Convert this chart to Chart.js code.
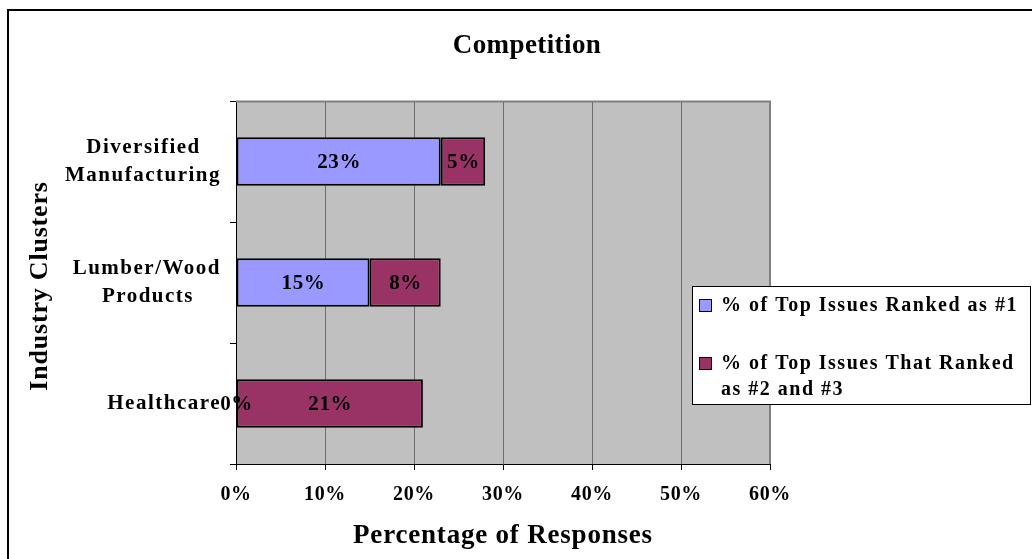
<!DOCTYPE html>
<html><head><meta charset="utf-8">
<script src="https://cdn.jsdelivr.net/npm/chart.js@4.4.1/dist/chart.umd.min.js"></script>
<style>html,body{margin:0;padding:0;background:#fff;} canvas{display:block;}</style>
</head><body>
<canvas id="c" width="1032" height="559"></canvas>
<script>
const chartTitle = 'Competition';
const categories = [['Diversified', 'Manufacturing'], ['Lumber/Wood', 'Products'], ['Healthcare']];
const seriesNames = ['% of Top Issues Ranked as #1', '% of Top Issues That Ranked as #2 and #3'];
const rankedFirst = [23, 15, 0];
const rankedSecondThird = [5, 8, 21];
const xMin = 0, xMax = 60, xStep = 10;
const xTitle = 'Percentage of Responses';
const yTitle = 'Industry Clusters';
const seriesColors = ['#9999FF', '#993366'];

const SERIF = '"Liberation Serif", "Times New Roman", serif';
const Y_SPACING = '1.5px', X_SPACING = '0.6px';
const mctx = document.createElement('canvas').getContext('2d');
function centerLines(lines, font, spacing) {
  mctx.font = font; mctx.letterSpacing = spacing;
  const w = lines.map(l => mctx.measureText(l).width);
  const max = Math.max(...w);
  const sw = mctx.measureText(' ').width;
  return lines.map((l, i) => l + ' '.repeat(Math.round((max - w[i]) / 2 / sw)));
}
function wrapText(ctx, text, maxW) {
  const words = text.split(' ');
  const lines = []; let cur = '';
  words.forEach(w => {
    const t = cur ? cur + ' ' + w : w;
    if (ctx.measureText(t).width > maxW && cur) { lines.push(cur); cur = w; } else cur = t;
  });
  if (cur) lines.push(cur);
  return lines;
}

const decor = {
  id: 'decor',
  beforeLayout(chart) { chart.ctx.letterSpacing = Y_SPACING; },
  afterLayout(chart) {
    const s = chart.scales.x;
    if (!s._spacingWrapped) {
      const orig = s.drawLabels;
      s.drawLabels = function (ca) {
        const ctx = this.ctx; ctx.save(); ctx.letterSpacing = X_SPACING; orig.call(this, ca); ctx.restore();
      };
      s._spacingWrapped = true;
    }
  },
  beforeDraw(chart) {
    const ctx = chart.ctx, a = chart.chartArea;
    ctx.save();
    ctx.fillStyle = '#fff'; ctx.fillRect(0, 0, chart.width, chart.height);
    ctx.fillStyle = '#c0c0c0'; ctx.fillRect(a.left, a.top, a.right - a.left, a.bottom - a.top);
    ctx.restore();
    ctx.letterSpacing = Y_SPACING;
  },
  beforeDatasetsDraw(chart) {
    const ctx = chart.ctx, a = chart.chartArea;
    ctx.save();
    ctx.strokeStyle = '#808080'; ctx.lineWidth = 2;
    ctx.beginPath();
    ctx.moveTo(a.left, a.top + 0.5); ctx.lineTo(a.right, a.top + 0.5); ctx.lineTo(a.right, a.bottom);
    ctx.stroke();
    ctx.restore();
  },
  afterDatasetsDraw(chart) {
    const ctx = chart.ctx;
    ctx.save();
    ctx.font = 'bold 21px ' + SERIF; ctx.letterSpacing = '0.6px';
    ctx.fillStyle = '#000'; ctx.textAlign = 'center'; ctx.textBaseline = 'middle';
    chart.data.datasets.forEach((ds, di) => {
      chart.getDatasetMeta(di).data.forEach((el, i) => {
        ctx.fillText(ds.data[i] + '%', (el.x + el.base) / 2 + 0.5, el.y + 1);
      });
    });
    ctx.restore();
  },
  afterDraw(chart) {
    const ctx = chart.ctx, a = chart.chartArea;
    ctx.save();
    ctx.fillStyle = '#000';
    ctx.font = 'bold 27px ' + SERIF; ctx.letterSpacing = '0.4px';
    ctx.textAlign = 'center'; ctx.textBaseline = 'alphabetic';
    ctx.fillText(chartTitle, 527, 53);
    ctx.font = 'bold 27px ' + SERIF; ctx.letterSpacing = '0.8px';
    ctx.fillText(xTitle, (a.left + a.right) / 2, 543);
    ctx.save();
    ctx.translate(47, 286); ctx.rotate(-Math.PI / 2);
    ctx.font = 'bold 26px ' + SERIF; ctx.letterSpacing = '0.8px';
    ctx.fillText(yTitle, 0, 0);
    ctx.restore();
    // legend
    const lx = 692, ly = 286, lw = 338, lh = 118;
    ctx.fillStyle = '#fff'; ctx.fillRect(lx, ly, lw, lh);
    ctx.strokeStyle = '#000'; ctx.lineWidth = 1;
    ctx.strokeRect(lx + 0.5, ly + 0.5, lw, lh);
    ctx.font = 'bold 20px ' + SERIF; ctx.letterSpacing = '1.5px';
    ctx.textAlign = 'left';
    let base = 311;
    chart.data.datasets.forEach((ds, di) => {
      ctx.fillStyle = ds.backgroundColor;
      ctx.fillRect(699, base - 12, 13, 13);
      ctx.strokeStyle = '#000'; ctx.strokeRect(699.5, base - 11.5, 12, 12);
      ctx.fillStyle = '#000';
      const lines = wrapText(ctx, ds.label, 305);
      lines.forEach((l, k) => ctx.fillText(l, 721, base + k * 26));
      base += 58;
    });
    ctx.strokeStyle = '#000'; ctx.lineWidth = 2;
    ctx.strokeRect(8, 10, 1040, 560);
    ctx.restore();
  }
};

new Chart(document.getElementById('c'), {
  type: 'bar',
  data: {
    labels: categories,
    datasets: [
      { label: seriesNames[0], data: rankedFirst, backgroundColor: seriesColors[0] },
      { label: seriesNames[1], data: rankedSecondThird, backgroundColor: seriesColors[1] }
    ].map(d => Object.assign(d, { borderColor: '#000', borderWidth: 2, borderSkipped: false, barPercentage: 0.4, categoryPercentage: 1 }))
  },
  options: {
    indexAxis: 'y',
    responsive: false,
    animation: false,
    layout: { padding: { left: 0, right: 262, top: 101, bottom: 0 } },
    plugins: { legend: { display: false }, title: { display: false }, tooltip: { enabled: false } },
    scales: {
      x: {
        type: 'linear', stacked: true, min: xMin, max: xMax,
        ticks: { stepSize: xStep, callback: v => v + '%', padding: 13, color: '#000', font: { family: SERIF, size: 20, weight: 'bold' }, maxRotation: 0 },
        grid: { color: '#6f6f6f', tickColor: '#000', tickLength: 6, lineWidth: 1 },
        border: { color: '#000', width: 1 },
        afterFit: s => { s.height = 95; }
      },
      y: {
        type: 'category', stacked: true,
        ticks: {
          crossAlign: 'near', padding: 9, color: '#000',
          font: { family: SERIF, size: 21, weight: 'bold', lineHeight: 1.3 },
          callback: (v, i) => centerLines(categories[i], 'bold 21px ' + SERIF, Y_SPACING)
        },
        grid: { drawOnChartArea: false, drawTicks: true, tickLength: 6, tickColor: '#000', offset: true },
        border: { color: '#000', width: 1 },
        afterFit: s => { s.width = 236; }
      }
    }
  },
  plugins: [decor]
});
</script>
</body></html>
